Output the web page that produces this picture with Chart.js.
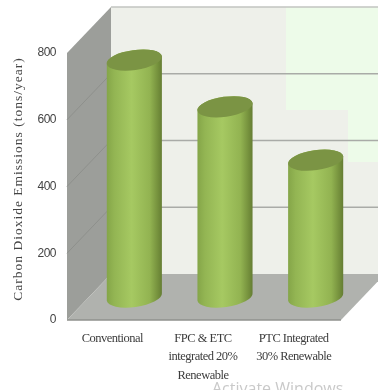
<!DOCTYPE html>
<html>
<head>
<meta charset="utf-8">
<title>Carbon dioxide emissions</title>
<script src="https://cdn.jsdelivr.net/npm/chart.js@4"></script>
<style>
  html, body { margin: 0; padding: 0; background: #fff; }
  #wrap { width: 378px; height: 390px; position: relative; overflow: hidden; }
</style>
</head>
<body>
<div id="wrap"><canvas id="chart" width="378" height="390"></canvas></div>
<script>
const categories = [
  'Conventional',
  ['FPC & ETC', 'integrated 20%', 'Renewable'],
  ['PTC Integrated', '30% Renewable']
];
const emissions = [710, 570, 410];
const yTicks = [0, 200, 400, 600, 800];
const yTitle = 'Carbon Dioxide Emissions (tons/year)';
const watermark = 'Activate Windows';

// depth of the fake 3D box, in pixels
const DEPTH_X = 44;
const DEPTH_Y = 46;
// floor runs a little past the last category
const FLOOR_EXTRA = 2;

function poly(ctx, pts, fill) {
  ctx.beginPath();
  pts.forEach((p, i) => i ? ctx.lineTo(p[0], p[1]) : ctx.moveTo(p[0], p[1]));
  ctx.closePath();
  ctx.fillStyle = fill;
  ctx.fill();
}

function drawBox(chart) {
  const { ctx, chartArea: a, scales } = chart;
  const y = scales.y;
  const frontRight = a.right + FLOOR_EXTRA;
  const backLeft = a.left + DEPTH_X;
  const backRight = frontRight + DEPTH_X;
  const top = y.getPixelForValue(800);
  const bottom = y.getPixelForValue(0);

  ctx.save();
  // back wall with the paler patches towards the right
  ctx.fillStyle = '#eef0ea';
  ctx.fillRect(backLeft, top - DEPTH_Y, backRight - backLeft, bottom - top);
  ctx.fillStyle = '#edfbe9';
  ctx.fillRect(286, top - DEPTH_Y, backRight - 286, 103);
  ctx.fillRect(348, top - DEPTH_Y + 103, backRight - 348, 52);

  // side wall and floor
  poly(ctx, [[a.left, top], [backLeft, top - DEPTH_Y], [backLeft, bottom - DEPTH_Y], [a.left, bottom]], '#9c9e9a');
  poly(ctx, [[a.left, bottom], [backLeft, bottom - DEPTH_Y], [backRight, bottom - DEPTH_Y], [frontRight, bottom]], '#b0b2ae');

  // gridlines run along the side wall, then across the back
  yTicks.forEach(v => {
    if (v === 0) return;
    const py = y.getPixelForValue(v);
    if (v !== 800) {
      ctx.strokeStyle = '#8e908c';
      ctx.lineWidth = 1;
      ctx.beginPath();
      ctx.moveTo(a.left, py);
      ctx.lineTo(backLeft, py - DEPTH_Y);
      ctx.stroke();
    }
    ctx.strokeStyle = v === 800 ? '#c2c4c0' : '#a9aba7';
    ctx.lineWidth = 1.5;
    ctx.beginPath();
    ctx.moveTo(backLeft, py - DEPTH_Y);
    ctx.lineTo(backRight, py - DEPTH_Y);
    ctx.stroke();
  });

  // front edge of the floor
  ctx.strokeStyle = '#8f918d';
  ctx.lineWidth = 1.5;
  ctx.beginPath();
  ctx.moveTo(a.left, bottom);
  ctx.lineTo(frontRight, bottom);
  ctx.stroke();
  ctx.restore();
}

function drawCylinders(chart) {
  const ctx = chart.ctx;
  const tilt = -8 * Math.PI / 180;
  chart.getDatasetMeta(0).data.forEach(bar => {
    const cx = bar.x + DEPTH_X / 2;
    const yTop = bar.y - DEPTH_Y / 2;
    const yBot = bar.base - DEPTH_Y / 2;
    const rx = bar.width / 2 + 0.3;
    const ry = 10;

    const body = ctx.createLinearGradient(cx - rx, 0, cx + rx, 0);
    body.addColorStop(0, '#84a548');
    body.addColorStop(0.14, '#93b553');
    body.addColorStop(0.45, '#a6c962');
    body.addColorStop(0.78, '#92b351');
    body.addColorStop(0.94, '#718c3a');
    body.addColorStop(1, '#647c33');

    ctx.save();
    ctx.beginPath();
    ctx.ellipse(cx, yTop, rx, ry, tilt, Math.PI, 0);
    ctx.ellipse(cx, yBot, rx, ry, tilt, 0, Math.PI);
    ctx.closePath();
    ctx.fillStyle = body;
    ctx.fill();

    ctx.beginPath();
    ctx.ellipse(cx, yTop, rx, ry, tilt, 0, Math.PI * 2);
    ctx.fillStyle = '#7b9444';
    ctx.fill();
    ctx.restore();
  });
}

const cylinderPlugin = {
  id: 'cylinders',
  beforeDraw(chart) {
    // tightens the tick labels
    chart.ctx.letterSpacing = '-0.5px';
  },
  beforeDatasetsDraw(chart) {
    chart.ctx.letterSpacing = '0px';
    drawBox(chart);
  },
  afterDatasetsDraw(chart) {
    drawCylinders(chart);
  },
  afterDraw(chart) {
    const ctx = chart.ctx;
    ctx.save();
    // rotated axis title, sits a little above the middle of the scale
    ctx.translate(18, 179);
    ctx.rotate(-Math.PI / 2);
    ctx.font = '13.5px "Liberation Serif"';
    ctx.letterSpacing = '1px';
    ctx.fillStyle = '#444';
    ctx.textAlign = 'center';
    ctx.textBaseline = 'middle';
    ctx.fillText(yTitle, 0, 0);
    ctx.restore();

    ctx.save();
    ctx.font = '16px "Open Sans"';
    ctx.fillStyle = '#c9c9c9';
    ctx.textAlign = 'left';
    ctx.textBaseline = 'alphabetic';
    ctx.fillText(watermark, 212, 394);
    ctx.restore();
  }
};

new Chart(document.getElementById('chart'), {
  type: 'bar',
  data: {
    labels: categories,
    datasets: [{
      data: emissions,
      backgroundColor: 'transparent',
      barPercentage: 0.607,
      categoryPercentage: 1
    }]
  },
  plugins: [cylinderPlugin],
  options: {
    responsive: false,
    animation: false,
    layout: { padding: { top: 53, right: 39, left: 0, bottom: 0 } },
    plugins: { legend: { display: false }, tooltip: { enabled: false } },
    scales: {
      x: {
        grid: { display: false },
        border: { display: false },
        afterFit(scale) { scale.height = 70; },
        ticks: {
          autoSkip: false,
          maxRotation: 0,
          padding: 2,
          color: '#3c3c3c',
          font: { family: '"Liberation Serif"', size: 12.5, lineHeight: 1.45 }
        }
      },
      y: {
        min: 0,
        max: 800,
        grid: { display: false },
        border: { display: false },
        afterFit(scale) { scale.width = 67; },
        afterBuildTicks(scale) { scale.ticks = yTicks.map(value => ({ value })); },
        ticks: {
          padding: 3,
          color: '#444',
          font: { family: '"Liberation Sans"', size: 12 }
        }
      }
    }
  }
});
</script>
</body>
</html>
